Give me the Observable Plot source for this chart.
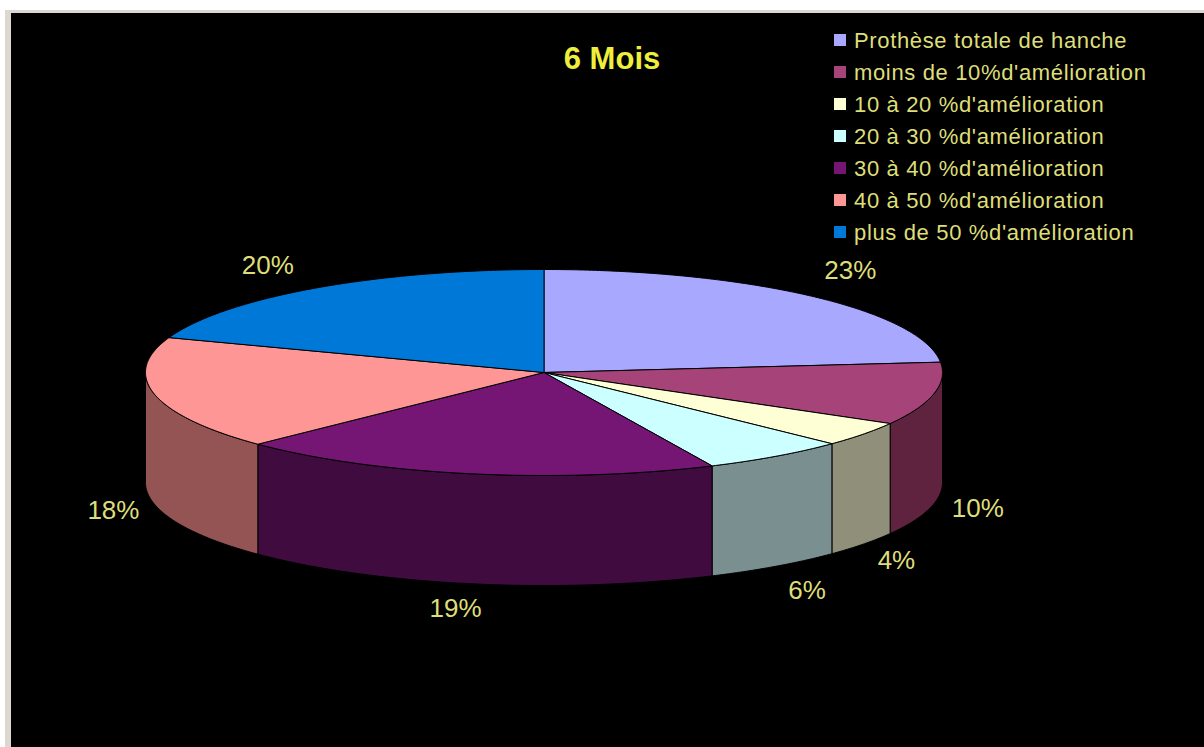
<!DOCTYPE html>
<html lang="fr">
<head>
<meta charset="utf-8">
<script src="https://cdn.jsdelivr.net/npm/d3@7"></script>
<script src="https://cdn.jsdelivr.net/npm/@observablehq/plot@0.6"></script>
<style>
  html, body { margin: 0; padding: 0; background: #fff; overflow: hidden; }
  #stage { position: relative; width: 1204px; height: 747px; overflow: hidden; font-family: "Liberation Sans", Arial, sans-serif; }
  #frame { position: absolute; left: 5px; top: 10px; right: 0; bottom: 0; background: #dcd8d0; }
  #black { position: absolute; left: 11px; top: 13px; right: 0; bottom: 0; background: #000; }
  #chart { position: absolute; left: 0; top: 0; }
  #title { position: absolute; left: 512px; width: 200px; top: 41px; text-align: center; color: #eeee3c; font-weight: bold; font-size: 31px; line-height: 36px; }
  #legend { position: absolute; left: 834px; top: 24px; color: #dede78; font-size: 22px; letter-spacing: 0.65px; }
  #legend .row { display: flex; align-items: center; height: 32px; white-space: nowrap; }
  #legend .row span:last-child { position: relative; top: 1px; }
  #legend .sw { width: 12px; height: 12px; margin-right: 8px; flex: none; }
</style>
</head>
<body>
<div id="stage">
  <div id="frame"></div>
  <div id="black"></div>
  <div id="chart"></div>
  <div id="title"></div>
  <div id="legend"></div>
</div>
<script>
const chartTitle = "6 Mois";
const categories = [
  "Prothèse totale de hanche",
  "moins de 10%d'amélioration",
  "10 à 20 %d'amélioration",
  "20 à 30 %d'amélioration",
  "30 à 40 %d'amélioration",
  "40 à 50 %d'amélioration",
  "plus de 50 %d'amélioration"
];
const shares = [23.4, 9.85, 3.9, 5.92, 19.68, 17.75, 19.5];
const shareLabels = ["23%", "10%", "4%", "6%", "19%", "18%", "20%"];
const topColors = ["#a8a8ff", "#a6447a", "#ffffd6", "#ccffff", "#751675", "#ff9696", "#0078d7"];
const wallColors = ["#5e5e90", "#5f2340", "#90907a", "#7a9090", "#400c40", "#945454", "#004478"];

// Layout of the tilted disc, in pixels
const W = 1204, H = 747;
const cx = 543.5, cy = 372, rx = 398.5, ry = 103, depth = 110;
const labelNudge = [[39, -25], [44, 5], [33, 17], [31, 24], [-16, 25], [-41, 6], [-47, -23]];

const total = d3.sum(shares);
const toAngle = v => (v / total) * 2 * Math.PI;
let cum = 0;
const slices = shares.map((v, i) => {
  const a0 = toAngle(cum);
  cum += v;
  return { i, a0, a1: toAngle(cum), name: categories[i] };
});

// Disc coordinates: unit radius on both axes; angle 0 at the top, clockwise
const rim = (a, drop = 0) => ({ x: Math.sin(a), y: -Math.cos(a) + drop });
const arc = (a0, a1, drop = 0) => {
  const n = Math.max(2, Math.ceil((a1 - a0) / 0.01));
  return d3.range(n + 1).map(k => rim(a0 + (a1 - a0) * k / n, drop));
};
const drop = depth / ry;

const marks = [];
// Front wall: only the part of the rim between 90° and 270° faces the viewer
for (const s of slices) {
  const a0 = Math.max(s.a0, Math.PI / 2), a1 = Math.min(s.a1, 3 * Math.PI / 2);
  if (a1 <= a0) continue;
  const pts = [...arc(a0, a1), ...arc(a0, a1, drop).reverse()];
  pts.push(pts[0]);
  marks.push(Plot.line(pts, { x: "x", y: "y", fill: wallColors[s.i], stroke: "#000", strokeWidth: 1, strokeLinejoin: "round" }));
}
// Top face
for (const s of slices) {
  const pts = [{ x: 0, y: 0 }, ...arc(s.a0, s.a1), { x: 0, y: 0 }];
  marks.push(Plot.line(pts, { x: "x", y: "y", fill: topColors[s.i], stroke: "#000", strokeWidth: 1, strokeLinejoin: "round" }));
}
// Percent labels
const labelRows = slices.map(s => {
  const mid = (s.a0 + s.a1) / 2;
  const p = rim(mid, Math.cos(mid) < 0 ? drop : 0);
  return { x: p.x + labelNudge[s.i][0] / rx, y: p.y + labelNudge[s.i][1] / ry, text: shareLabels[s.i] };
});
marks.push(Plot.text(labelRows, {
  x: "x", y: "y", text: "text", fill: "#dede78",
  fontSize: 26, fontFamily: "Liberation Sans, Arial, sans-serif",
  textAnchor: "middle", lineAnchor: "middle"
}));

const chart = Plot.plot({
  width: W, height: H,
  marginTop: 0, marginRight: 0, marginBottom: 0, marginLeft: 0,
  style: { background: "transparent" },
  x: { domain: [-cx / rx, (W - cx) / rx], range: [0, W], axis: null },
  y: { domain: [-cy / ry, (H - cy) / ry], range: [0, H], axis: null },
  marks
});
document.getElementById("chart").append(chart);

document.getElementById("title").textContent = chartTitle;
const legend = document.getElementById("legend");
categories.forEach((name, i) => {
  const row = document.createElement("div");
  row.className = "row";
  const sw = document.createElement("span");
  sw.className = "sw";
  sw.style.background = topColors[i];
  const label = document.createElement("span");
  label.textContent = name;
  row.append(sw, label);
  legend.append(row);
});
</script>
</body>
</html>
